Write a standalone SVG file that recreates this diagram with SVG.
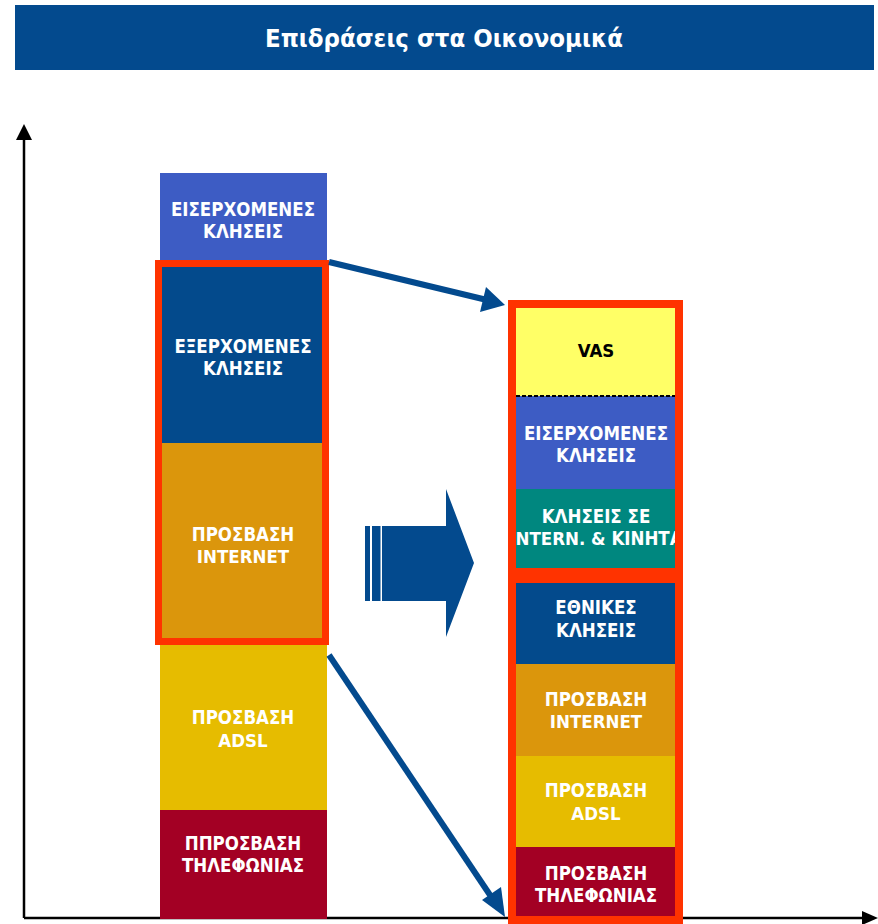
<svg xmlns="http://www.w3.org/2000/svg" width="878" height="924" viewBox="0 0 878 924">
<style>
.t{font-family:"DejaVu Sans Condensed","DejaVu Sans","Liberation Sans",sans-serif;font-stretch:condensed;font-weight:bold;font-size:18.5px;fill:#ffffff;text-anchor:middle}
.k{fill:#000000}
.red{fill:none;stroke:#ff3300}
.ax{stroke:#000;stroke-width:2.5;fill:none}
.con{stroke:#034a8e;stroke-width:6;fill:none}
</style>
<defs>
<clipPath id="rc"><rect x="508" y="300" width="175" height="624"/></clipPath>
</defs>
<rect width="878" height="924" fill="#ffffff"/>
<g id="title">
<rect x="15" y="5" width="859" height="65" fill="#034a8e"/>
<text x="444" y="47" class="t" style="font-size:25.5px">Επιδράσεις στα Οικονομικά</text>
</g>
<g id="axes">
<line class="ax" x1="24" y1="138" x2="24" y2="918"/>
<polygon points="24,124 16,140 32,140" fill="#000"/>
<line class="ax" x1="24" y1="918" x2="864" y2="918"/>
<polygon points="878,918 862,911 862,925" fill="#000"/>
</g>
<g id="left-stack">
<g id="l-incoming"><rect x="160" y="173" width="167" height="90" fill="#3d5cc4"/><text class="t" x="243" y="216">ΕΙΣΕΡΧΟΜΕΝΕΣ</text><text class="t" x="243" y="238">ΚΛΗΣΕΙΣ</text></g>
<g id="l-outgoing"><rect x="160" y="263" width="167" height="181" fill="#034a8c"/><text class="t" x="243" y="353">ΕΞΕΡΧΟΜΕΝΕΣ</text><text class="t" x="243" y="375">ΚΛΗΣΕΙΣ</text></g>
<g id="l-internet"><rect x="160" y="443" width="167" height="200" fill="#db960c"/><text class="t" x="243" y="541">ΠΡΟΣΒΑΣΗ</text><text class="t" x="243" y="563">INTERNET</text></g>
<g id="l-adsl"><rect x="160" y="642" width="167" height="168" fill="#e6bc00"/><text class="t" x="243" y="724">ΠΡΟΣΒΑΣΗ</text><text class="t" x="243" y="747">ADSL</text></g>
<g id="l-phone"><rect x="160" y="810" width="167" height="109" fill="#a30024"/><text class="t" x="243" y="850">ΠΠΡΟΣΒΑΣΗ</text><text class="t" x="243" y="872">ΤΗΛΕΦΩΝΙΑΣ</text></g>
<rect id="l-frame" class="red" x="158.5" y="263.5" width="167" height="378" stroke-width="7"/>
</g>
<g id="right-stack" clip-path="url(#rc)">
<g id="r-vas"><rect x="516" y="308" width="160" height="88" fill="#ffff66"/><text class="t k" x="596" y="357">VAS</text></g>
<g id="r-incoming"><rect x="516" y="396" width="160" height="93" fill="#3d5cc4"/><text class="t" x="596" y="440">ΕΙΣΕΡΧΟΜΕΝΕΣ</text><text class="t" x="596" y="462">ΚΛΗΣΕΙΣ</text></g>
<line x1="516" y1="396" x2="676" y2="396" stroke="#000" stroke-width="2" stroke-dasharray="4,2"/>
<g id="r-intl"><rect x="516" y="489" width="160" height="85" fill="#00877f"/><text class="t" x="596" y="523">ΚΛΗΣΕΙΣ ΣΕ</text><text class="t" x="596" y="545">INTERN. &amp; ΚΙΝΗΤΑ</text></g>
<g id="r-national"><rect x="516" y="580" width="160" height="84" fill="#034a8c"/><text class="t" x="596" y="614">ΕΘΝΙΚΕΣ</text><text class="t" x="596" y="637">ΚΛΗΣΕΙΣ</text></g>
<g id="r-internet"><rect x="516" y="664" width="160" height="92" fill="#db960c"/><text class="t" x="596" y="706">ΠΡΟΣΒΑΣΗ</text><text class="t" x="596" y="728">INTERNET</text></g>
<g id="r-adsl"><rect x="516" y="756" width="160" height="91" fill="#e6bc00"/><text class="t" x="596" y="797">ΠΡΟΣΒΑΣΗ</text><text class="t" x="596" y="820">ADSL</text></g>
<g id="r-phone"><rect x="516" y="847" width="160" height="70" fill="#a30024"/><text class="t" x="596" y="880">ΠΡΟΣΒΑΣΗ</text><text class="t" x="596" y="902">ΤΗΛΕΦΩΝΙΑΣ</text></g>
<rect id="r-frame-top" class="red" x="512" y="304" width="167" height="268" stroke-width="8"/>
<rect id="r-frame-bottom" class="red" x="512" y="579" width="167" height="341" stroke-width="8"/>
</g>
<g id="block-arrow" fill="#034a8e">
<rect x="365" y="526" width="5" height="75"/>
<rect x="372" y="526" width="8.5" height="75"/>
<polygon points="382,526 446,526 446,489 474,563 446,637 446,601 382,601"/>
</g>
<g id="connectors">
<line class="con" x1="329" y1="262" x2="487" y2="300"/>
<polygon points="505,305 480,312 486,287" fill="#034a8e"/>
<line class="con" x1="329" y1="655" x2="492" y2="898"/>
<polygon points="505,917 482,900 501,887" fill="#034a8e"/>
</g>
</svg>
